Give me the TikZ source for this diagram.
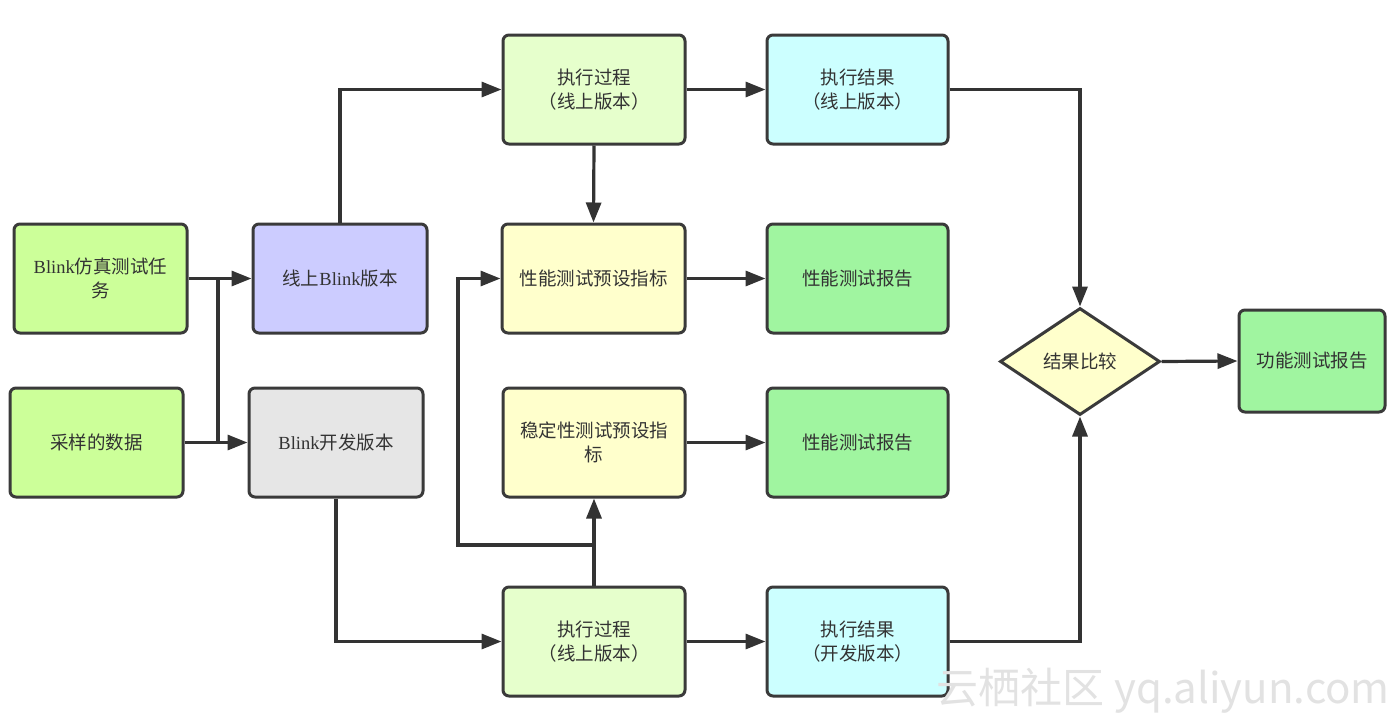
\documentclass[tikz,border=0pt]{standalone}
\usepackage{fontspec}
\setmainfont{Liberation Serif}
\newfontfamily\cjk{Noto Sans CJK SC}
\usetikzlibrary{shapes.geometric,arrows.meta}
\definecolor{bordc}{HTML}{3A3A3A}
\definecolor{linec}{HTML}{333333}
\definecolor{txtc}{HTML}{333333}
\definecolor{lgreen}{HTML}{CCFF99}
\definecolor{lav}{HTML}{CCCCFF}
\definecolor{lgray}{HTML}{E6E6E6}
\definecolor{pgreen}{HTML}{E6FFCC}
\definecolor{lcyan}{HTML}{CCFFFF}
\definecolor{lyel}{HTML}{FFFFCC}
\definecolor{mgreen}{HTML}{A0F5A0}
\definecolor{wmark}{HTML}{E2E2E2}
\newcommand{\lat}[1]{{\rmfamily #1}}
\begin{document}
\begin{tikzpicture}[x=1pt,y=-1pt,
  box/.style={draw=bordc, line width=3pt, rounded corners=6pt,
    minimum height=109pt, align=center, inner sep=0pt,
    font=\fontsize{18.5}{24}\selectfont\cjk, text=txtc},
  dia/.style={draw=bordc, line width=3pt, diamond, aspect=1.5,
    minimum width=160pt, minimum height=107pt, inner sep=0pt,
    font=\fontsize{18.5}{24}\selectfont\cjk, text=txtc},
  conn/.style={draw=linec, line width=3.2pt, -{Triangle[length=20pt,width=15pt]}},
  plain/.style={draw=linec, line width=3.2pt},
]
\useasboundingbox (0,0) rectangle (1400,721);
\fill[white] (0,0) rectangle (1400,721);

\node[box, fill=lgreen, minimum width=173pt] (A) at (100.5,278.5) {\lat{Blink}仿真测试任\\务};
\node[box, fill=lgreen, minimum width=173pt] (B) at (96.5,442.5) {采样的数据};
\node[box, fill=lav, minimum width=174pt] (C) at (340,278.5) {线上\lat{Blink}版本};
\node[box, fill=lgray, minimum width=174pt] (D) at (336,442.5) {\lat{Blink}开发版本};
\node[box, fill=pgreen, minimum width=182pt] (E) at (594,89.5) {执行过程\\（线上版本）};
\node[box, fill=lcyan, minimum width=181pt] (F) at (857.5,89.5) {执行结果\\（线上版本）};
\node[box, fill=lyel, minimum width=183pt] (G) at (593.5,278.5) {性能测试预设指标};
\node[box, fill=mgreen, minimum width=181pt] (H) at (857.5,278.5) {性能测试报告};
\node[box, fill=lyel, minimum width=182pt] (I) at (594,442.5) {稳定性测试预设指\\标};
\node[box, fill=mgreen, minimum width=181pt] (J) at (857.5,442.5) {性能测试报告};
\node[box, fill=pgreen, minimum width=182pt] (K) at (594,641.5) {执行过程\\（线上版本）};
\node[box, fill=lcyan, minimum width=181pt] (L) at (857.5,641.5) {执行结果\\（开发版本）};
\node[dia, fill=lyel] (M) at (1080,361.5) {结果比较};
\node[box, fill=mgreen, minimum width=146pt, minimum height=102pt] (N) at (1312,361) {功能测试报告};

\coordinate (j1) at (218,0);
\coordinate (loop) at (458,545);

\draw[conn] (A.east) -- (C.west);
\draw[conn] (B.east) -- (D.west);
\draw[plain] (j1 |- A.east) -- (j1 |- B.east);
\draw[conn] (C.north) |- (E.west);
\draw[conn] (D.south) |- (K.west);
\draw[conn] (E.east) -- (F.west);
\draw[conn] (E.south) -- (G.north);
\draw[conn] (F.east) -| (M.north);
\draw[conn] (G.east) -- (H.west);
\draw[conn] (I.east) -- (J.west);
\draw[conn] (K.north) -- (I.south);
\draw[conn] (K.north |- loop) -- (loop) |- (G.west);
\draw[conn] (K.east) -- (L.west);
\draw[conn] (L.east) -| (M.south);
\draw[conn] (M.east) -- (N.west);

\node[text=wmark, font=\fontsize{42}{44}\selectfont\cjk, anchor=east, inner sep=0pt] (wm) at (1390,691) {云栖社区 yq.aliyun.com};
\end{tikzpicture}
\end{document}
